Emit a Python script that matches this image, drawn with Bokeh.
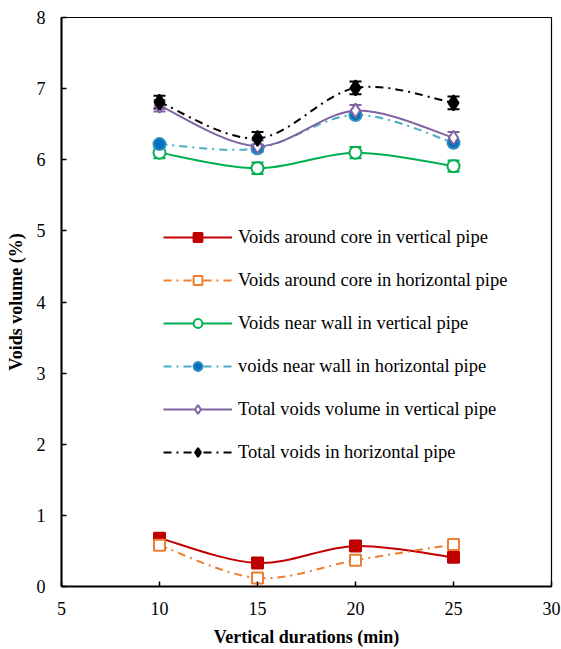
from bokeh.plotting import figure
from bokeh.models import (ColumnDataSource, Range1d, FixedTicker, Whisker, TeeHead,
                          Legend, LegendItem)
from bokeh.embed import file_html
from bokeh.resources import INLINE

# ---- data ----
durations = [10, 15, 20, 25]
core_vertical = [0.68, 0.33, 0.57, 0.41]
core_horizontal = [0.58, 0.12, 0.37, 0.59]
wall_vertical = [6.10, 5.88, 6.10, 5.91]
wall_horizontal = [6.22, 6.16, 6.63, 6.24]
total_vertical = [6.76, 6.19, 6.69, 6.31]
total_horizontal = [6.81, 6.30, 7.01, 6.80]
err_wall_vertical = [0.08, 0.08, 0.08, 0.08]
err_total_vertical = [0.08, 0.08, 0.08, 0.08]
err_total_horizontal = [0.09, 0.09, 0.09, 0.09]

names = [
    "Voids around core in vertical pipe",
    "Voids around core in horizontal pipe",
    "Voids near wall in vertical pipe",
    "voids near wall in horizontal pipe",
    "Total voids volume in vertical pipe",
    "Total voids in horizontal pipe",
]
x_ticks = [5, 10, 15, 20, 25, 30]
y_ticks = [0, 1, 2, 3, 4, 5, 6, 7, 8]

FONT = "Times New Roman, Liberation Serif, DejaVu Serif, serif"

p = figure(width=561, height=649, output_backend="svg", toolbar_location=None,
           x_range=Range1d(5, 30), y_range=Range1d(0, 8),
           min_border_left=61, min_border_right=10, min_border_top=17,
           min_border_bottom=62)
p.xgrid.visible = False
p.ygrid.visible = False
p.outline_line_color = "black"
p.outline_line_width = 1.2
p.background_fill_color = "white"
p.border_fill_color = "white"

for ax, ticks in ((p.xaxis[0], x_ticks), (p.yaxis[0], y_ticks)):
    ax.ticker = FixedTicker(ticks=ticks)
    ax.minor_tick_line_color = None
    ax.major_tick_in = 5
    ax.major_tick_out = 0
    ax.major_tick_line_width = 1.5
    ax.major_tick_line_color = "black"
    ax.axis_line_width = 2
    ax.axis_line_color = "black"
    ax.major_label_text_font = FONT
    ax.major_label_text_font_size = "18px"
    ax.major_label_text_color = "black"
    ax.axis_label_text_font = FONT
    ax.axis_label_text_font_style = "bold"
    ax.axis_label_text_font_size = "18px"
    ax.axis_label_text_color = "black"

p.xaxis.axis_label = "Vertical durations (min)"
p.yaxis.axis_label = "Voids volume (%)"
p.xaxis.major_label_standoff = 15
p.xaxis.axis_label_standoff = 9
p.yaxis.major_label_standoff = 16
p.yaxis.axis_label_standoff = 8


def smooth_segments(xs, ys, t=1.0 / 6.0):
    x0, y0, x1, y1, cx0, cy0, cx1, cy1 = [], [], [], [], [], [], [], []
    n = len(xs)
    for i in range(n - 1):
        xp, yp = (xs[i - 1], ys[i - 1]) if i > 0 else (xs[i], ys[i])
        xn, yn = (xs[i + 2], ys[i + 2]) if i + 2 < n else (xs[i + 1], ys[i + 1])
        x0.append(xs[i]); y0.append(ys[i])
        x1.append(xs[i + 1]); y1.append(ys[i + 1])
        cx0.append(xs[i] + (xs[i + 1] - xp) * t)
        cy0.append(ys[i] + (ys[i + 1] - yp) * t)
        cx1.append(xs[i + 1] - (xn - xs[i]) * t)
        cy1.append(ys[i + 1] - (yn - ys[i]) * t)
    return dict(x0=x0, y0=y0, x1=x1, y1=y1, cx0=cx0, cy0=cy0, cx1=cx1, cy1=cy1)


series = [
    (core_vertical, None, "#C00000", "solid", "square", "#C00000", "#C00000", 11),
    (core_horizontal, None, "#ED7D31", "8 5 2 5", "square", "#ED7D31", "white", 11),
    (wall_vertical, err_wall_vertical, "#00B050", "solid", "circle", "#00B050", "white", 12),
    (wall_horizontal, None, "#4BACC6", "8 5 2 5", "circle", "#2E8FC0", "#0070C0", 12),
    (total_vertical, err_total_vertical, "#8064A2", "solid", "diamond", "#8064A2", "white", 14),
    (total_horizontal, err_total_horizontal, "black", "8 5 2 5", "diamond", "black", "black", 15),
]

items = []
for (vals, errs, lc, dash, marker, mlc, mfc, msize), name in zip(series, names):
    if errs is not None:
        esrc = ColumnDataSource(dict(x=durations,
                                     upper=[v + e for v, e in zip(vals, errs)],
                                     lower=[v - e for v, e in zip(vals, errs)]))
        w = Whisker(source=esrc, base="x", upper="upper", lower="lower",
                    dimension="height", line_color=lc, line_width=1.5,
                    upper_head=TeeHead(size=12, line_color=lc, line_width=2),
                    lower_head=TeeHead(size=12, line_color=lc, line_width=2),
                    level="underlay")
        p.add_layout(w)
    bsrc = ColumnDataSource(smooth_segments(durations, vals))
    rb = p.bezier(x0="x0", y0="y0", x1="x1", y1="y1", cx0="cx0", cy0="cy0",
                  cx1="cx1", cy1="cy1", source=bsrc, line_color=lc,
                  line_width=2, line_dash=dash)
    rs = p.scatter(x=durations, y=vals, marker=marker, size=msize,
                   line_color=mlc, fill_color=mfc, line_width=2)
    items.append(LegendItem(label=name, renderers=[rb, rs]))

legend = Legend(items=items, location=(102, 123), padding=0, margin=0,
                border_line_color=None, background_fill_alpha=0,
                glyph_width=69, glyph_height=22, label_height=22, spacing=21,
                label_standoff=6, label_text_font=FONT,
                label_text_font_size="18.5px", label_text_color="black")
p.add_layout(legend, "center")

open("out.html", "w").write(file_html(p, INLINE))
